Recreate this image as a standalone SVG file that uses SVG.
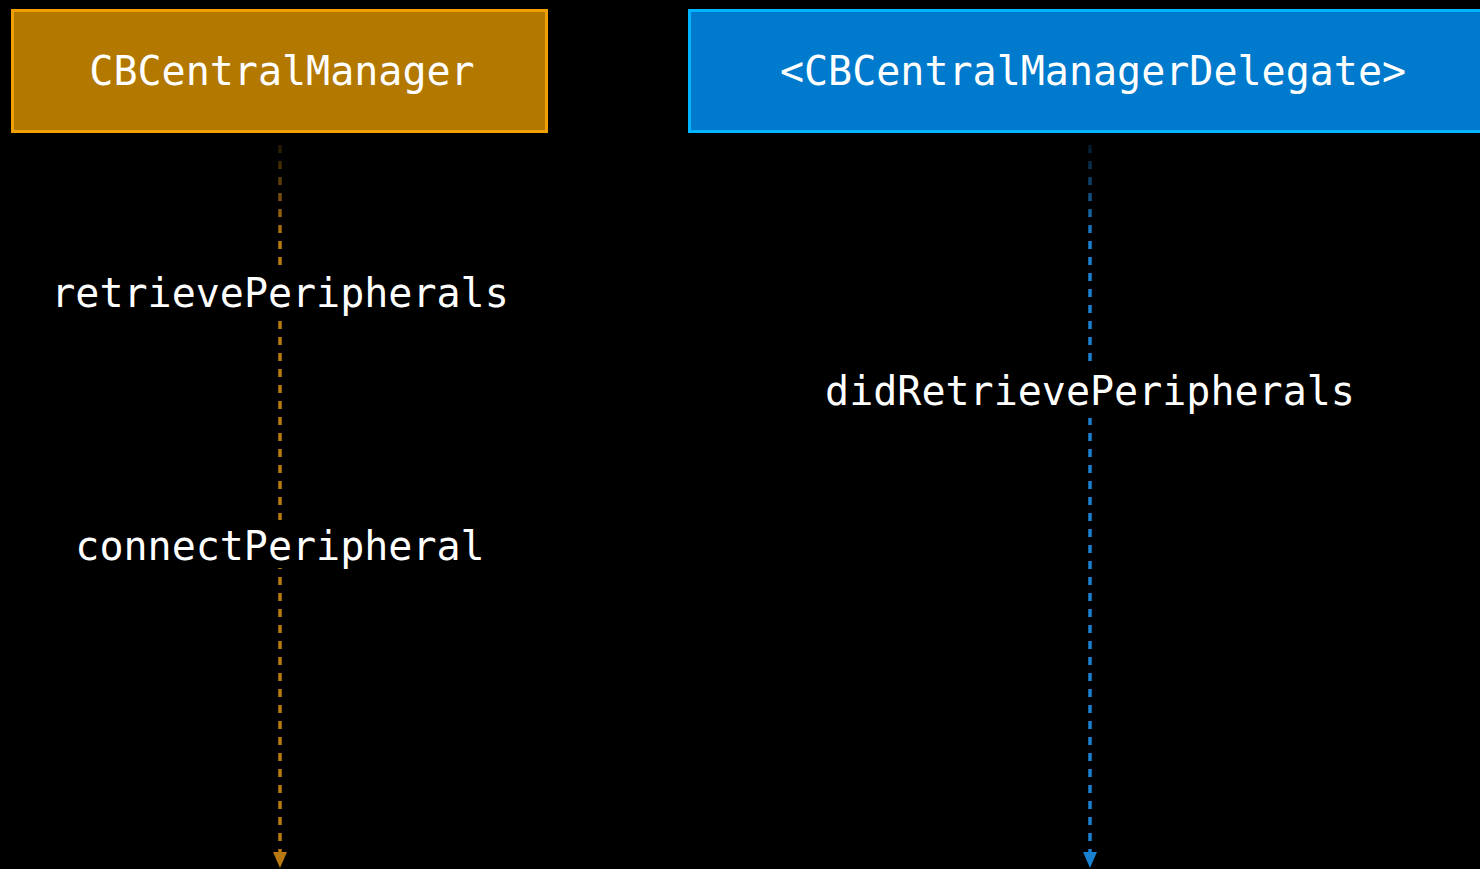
<svg xmlns="http://www.w3.org/2000/svg" width="1480" height="869" viewBox="0 0 1480 869">
<style>
text{font-family:"DejaVu Sans Mono","Liberation Mono",monospace;font-size:40px;fill:#ffffff;text-anchor:middle}
.life{stroke-width:3.5;stroke-dasharray:8 8;fill:none}
</style>
<defs>
<linearGradient id="gO" gradientUnits="userSpaceOnUse" x1="0" y1="140" x2="0" y2="240">
<stop offset="0" stop-color="#b87a10" stop-opacity="0.15"/>
<stop offset="1" stop-color="#b87a10" stop-opacity="1"/>
</linearGradient>
<linearGradient id="gB" gradientUnits="userSpaceOnUse" x1="0" y1="140" x2="0" y2="240">
<stop offset="0" stop-color="#1a80d0" stop-opacity="0.15"/>
<stop offset="1" stop-color="#1a80d0" stop-opacity="1"/>
</linearGradient>
<marker id="aO" markerWidth="14" markerHeight="16" refX="7" refY="16" orient="auto-start-reverse" markerUnits="userSpaceOnUse" viewBox="0 0 14 16">
<path d="M0,0 L14,0 L7,16 Z" fill="#b87a10" transform="translate(0,0)"/>
</marker>
<marker id="aB" markerWidth="14" markerHeight="16" refX="7" refY="16" markerUnits="userSpaceOnUse" viewBox="0 0 14 16">
<path d="M0,0 L14,0 L7,16 Z" fill="#1a80d0"/>
</marker>
</defs>
<rect x="0" y="0" width="1480" height="869" fill="#000"/>
<g id="connectors">
<line class="life" x1="280" y1="145" x2="280" y2="852" stroke="url(#gO)"/>
<path d="M273,852 L287,852 L280,868 Z" fill="#b87a10"/>
<line class="life" x1="1090" y1="145" x2="1090" y2="852" stroke="url(#gB)"/>
<path d="M1083,852 L1097,852 L1090,868 Z" fill="#1a80d0"/>
</g>
<g id="node-central">
<rect x="12.5" y="10.5" width="534" height="121" fill="#b37800" stroke="#f0a000" stroke-width="3"/>
<text x="282" y="85">CBCentralManager</text>
</g>
<g id="node-delegate">
<rect x="689.5" y="10.5" width="810" height="121" fill="#007acc" stroke="#00b4ff" stroke-width="3"/>
<text x="1093" y="85">&lt;CBCentralManagerDelegate&gt;</text>
</g>
<g id="label-retrieve">
<rect x="48" y="266" width="462" height="54" fill="#000"/>
<text x="280" y="307">retrievePeripherals</text>
</g>
<g id="label-connect">
<rect x="72" y="520" width="416" height="48" fill="#000"/>
<text x="280" y="560">connectPeripheral</text>
</g>
<g id="label-didretrieve">
<rect x="820" y="362" width="540" height="56" fill="#000"/>
<text x="1090" y="405">didRetrievePeripherals</text>
</g>
</svg>
